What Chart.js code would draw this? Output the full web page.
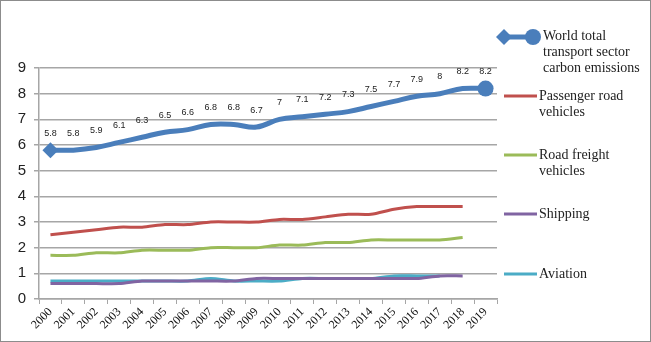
<!DOCTYPE html>
<html>
<head>
<meta charset="utf-8">
<script src="https://cdn.jsdelivr.net/npm/chart.js@4"></script>
<style>
  html, body { margin: 0; padding: 0; background: #fff; }
  #wrap { position: relative; width: 651px; height: 342px; box-sizing: border-box; border: 1px solid #8c8c8c; }
  #chart { position: absolute; left: 0; top: 0; }
  .leg { position: absolute; font-family: "Liberation Serif", serif; font-size: 14px; line-height: 16px; color: #222; }
  .mk { position: absolute; }
</style>
</head>
<body>
<div id="wrap">
  <canvas id="chart" width="651" height="342"></canvas>
  <svg class="mk" style="left:494px;top:26px" width="50" height="20">
    <line x1="9" y1="10" x2="38" y2="10" stroke="#4a7ebb" stroke-width="5"/>
    <polygon points="9,2 17,10 9,18 1,10" fill="#4a7ebb"/>
    <circle cx="38" cy="10" r="8" fill="#4a7ebb"/>
  </svg>
  <div class="leg" style="left:542px;top:27px">World total<br>transport sector<br>carbon emissions</div>
  <svg class="mk" style="left:503px;top:92px" width="34" height="6"><line x1="0" y1="3" x2="33" y2="3" stroke="#c0504d" stroke-width="3"/></svg>
  <div class="leg" style="left:538px;top:87px">Passenger road<br>vehicles</div>
  <svg class="mk" style="left:503px;top:151px" width="34" height="6"><line x1="0" y1="3" x2="33" y2="3" stroke="#9bbb59" stroke-width="3"/></svg>
  <div class="leg" style="left:538px;top:146px">Road freight<br>vehicles</div>
  <svg class="mk" style="left:503px;top:210px" width="34" height="6"><line x1="0" y1="3" x2="33" y2="3" stroke="#8064a2" stroke-width="3"/></svg>
  <div class="leg" style="left:538px;top:205px">Shipping</div>
  <svg class="mk" style="left:503px;top:270px" width="34" height="6"><line x1="0" y1="3" x2="33" y2="3" stroke="#4bacc6" stroke-width="3"/></svg>
  <div class="leg" style="left:538px;top:265px">Aviation</div>
</div>
<script>
const years = ['2000','2001','2002','2003','2004','2005','2006','2007','2008','2009',
               '2010','2011','2012','2013','2014','2015','2016','2017','2018','2019'];
const world_total = [5.8,5.8,5.9,6.1,6.3,6.5,6.6,6.8,6.8,6.7,7,7.1,7.2,7.3,7.5,7.7,7.9,8,8.2,8.2];
const passenger_road = [2.5,2.6,2.7,2.8,2.8,2.9,2.9,3.0,3.0,3.0,3.1,3.1,3.2,3.3,3.3,3.5,3.6,3.6,3.6,null];
const road_freight = [1.7,1.7,1.8,1.8,1.9,1.9,1.9,2.0,2.0,2.0,2.1,2.1,2.2,2.2,2.3,2.3,2.3,2.3,2.4,null];
const shipping = [0.6,0.6,0.6,0.6,0.7,0.7,0.7,0.7,0.7,0.8,0.8,0.8,0.8,0.8,0.8,0.8,0.8,0.9,0.9,null];
const aviation = [0.7,0.7,0.7,0.7,0.7,0.7,0.7,0.8,0.7,0.7,0.7,0.8,0.8,0.8,0.8,0.9,0.9,0.9,null,null];

const blue = '#4a7ebb';
const red = '#c0504d';
const green = '#9bbb59';
const purple = '#8064a2';
const cyan = '#4bacc6';
const grid_color = '#a6a6a6';

// first point is a diamond, last point a circle, like the original
const last = world_total.length - 1;
const world_styles = world_total.map((v, i) => i == 0 ? 'rectRot' : 'circle');
const world_radius = world_total.map((v, i) => i == 0 ? 8 : (i == last ? 8 : 0));

function thin_line(label, data, colour) {
    return {
        label: label,
        data: data,
        borderColor: colour,
        backgroundColor: colour,
        borderWidth: 3,
        pointRadius: 0,
        tension: 0.25,
        spanGaps: false,
    };
}

//value labels above the world total line
const value_labels = {
    id: 'valueLabels',
    afterDatasetsDraw(chart) {
        const ctx = chart.ctx;
        const meta = chart.getDatasetMeta(0);
        ctx.save();
        ctx.font = '9px "Liberation Sans", sans-serif';
        ctx.fillStyle = '#222';
        ctx.textAlign = 'center';
        ctx.textBaseline = 'middle';
        meta.data.forEach((pt, i) => {
            ctx.fillText(String(world_total[i]), pt.x, pt.y - 17);
        });
        ctx.restore();
    }
};

new Chart(document.getElementById('chart'), {
    type: 'line',
    data: {
        labels: years,
        datasets: [
            {
                label: 'World total transport sector carbon emissions',
                data: world_total,
                borderColor: blue,
                backgroundColor: blue,
                borderWidth: 5,
                pointStyle: world_styles,
                pointRadius: world_radius,
                pointBorderWidth: 0,
                tension: 0.4,
            },
            thin_line('Passenger road vehicles', passenger_road, red),
            thin_line('Road freight vehicles', road_freight, green),
            thin_line('Shipping', shipping, purple),
            thin_line('Aviation', aviation, cyan),
        ]
    },
    options: {
        responsive: false,
        animation: false,
        layout: {
            padding: { left: 0, right: 155, top: 67, bottom: 0 }
        },
        plugins: {
            legend: { display: false },
            tooltip: { enabled: false },
        },
        scales: {
            y: {
                min: 0,
                max: 9,
                afterFit(scale) { scale.width = 38; },
                ticks: {
                    stepSize: 1,
                    color: '#222',
                    padding: 8,
                    font: { family: '"Liberation Sans", sans-serif', size: 15 }
                },
                grid: {
                    color: grid_color,
                    lineWidth: 1.5,
                    tickLength: 5,
                },
                border: { color: grid_color, width: 1.5 }
            },
            x: {
                offset: true,
                afterFit(scale) { scale.height = 44; },
                ticks: {
                    autoSkip: false,
                    minRotation: 45,
                    maxRotation: 45,
                    color: '#111',
                    padding: 1,
                    font: { family: '"Liberation Serif", serif', size: 12 }
                },
                grid: {
                    offset: true,
                    drawOnChartArea: false,
                    color: grid_color,
                    tickLength: 5,
                },
                border: { color: grid_color, width: 1.5 }
            }
        }
    },
    plugins: [value_labels]
});
</script>
</body>
</html>
